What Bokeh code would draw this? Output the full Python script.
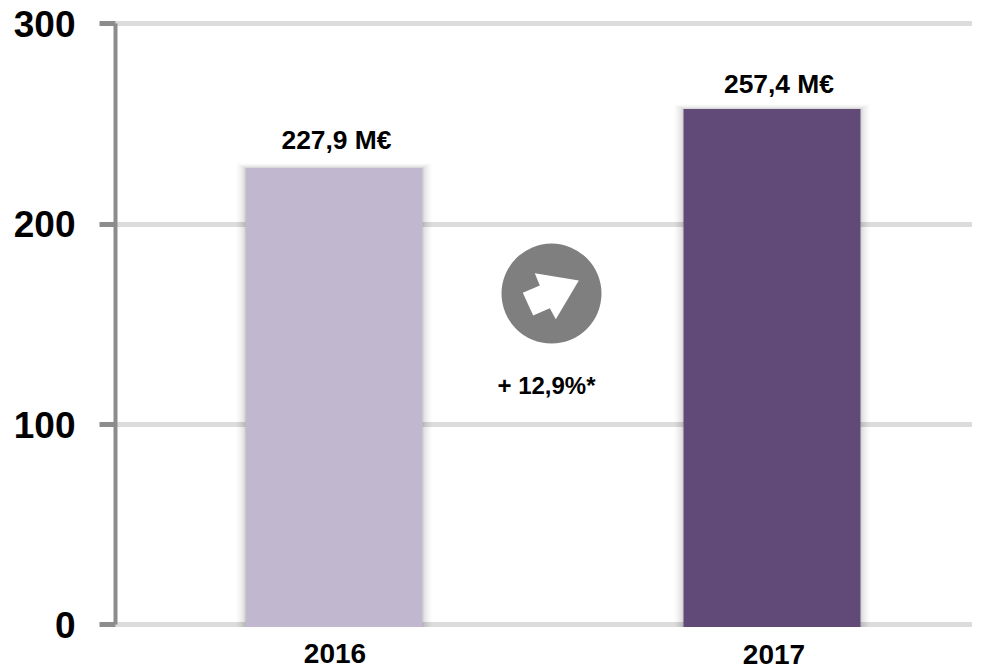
from bokeh.plotting import figure
from bokeh.models import Range1d, FixedTicker, PolyAnnotation, ColumnDataSource
from bokeh.core.properties import value
from bokeh.embed import file_html
from bokeh.resources import INLINE

years = ["2016", "2017"]
revenue = [227.9, 257.4]
labels = ["227,9 M€", "257,4 M€"]
colors = ["#c1b8d0", "#614a78"]
ticks = [0, 100, 200, 300]
growth_label = "+ 12,9%*"

FONT = "Liberation Sans"
xs = [0, 1]
bar_w = 177 / 438
px = 1 / 438          # data units per horizontal pixel
py = 1 / 2.005        # data units per vertical pixel
H = 669

p = figure(width=972, height=H, output_backend="svg", toolbar_location=None,
           x_range=Range1d(-0.4989, 1.4578), y_range=Range1d(-22.2, 311.5),
           x_axis_location=None, min_border_left=115, min_border_right=0,
           min_border_top=0, min_border_bottom=0)
p.outline_line_color = None
p.background_fill_color = "white"
p.xgrid.visible = False
p.ygrid.ticker = FixedTicker(ticks=ticks)
p.ygrid.grid_line_color = "#dcdcdc"
p.ygrid.grid_line_width = 5

ax = p.yaxis[0]
ax.ticker = FixedTicker(ticks=ticks)
ax.bounds = (0, 300)
ax.axis_line_color = "#8c8c8c"
ax.axis_line_width = 4
ax.major_tick_line_color = "#8c8c8c"
ax.major_tick_line_width = 5
ax.major_tick_out = 16
ax.major_tick_in = 0
ax.minor_tick_line_color = None
ax.major_label_standoff = 24
ax.major_label_text_font = FONT
ax.major_label_text_font_style = "bold"
ax.major_label_text_font_size = "37px"
ax.major_label_text_color = "black"

# soft shadow round each bar
for spread, alpha in [(9, 0.02), (7, 0.025), (5, 0.03), (3, 0.04), (1.5, 0.05)]:
    p.vbar(x=xs, top=[v + spread * py * 0.5 for v in revenue], bottom=-1,
           width=bar_w + 2 * spread * px, color="#000000", alpha=alpha, line_color=None)

p.vbar(x=xs, top=revenue, bottom=-1, width=bar_w, color=colors, line_color=None)

val_src = ColumnDataSource(dict(x=xs, y=revenue, t=labels, dx=[2.5, 7], dy=[-28, -25]))
p.text(x="x", y="y", text="t", source=val_src, text_font=value(FONT), text_font_style="bold",
       text_font_size="26.4px", text_color="black", text_align="center",
       text_baseline="middle", x_offset="dx", y_offset="dy")

src = ColumnDataSource(dict(x=xs, t=years, dx=[1, 2], off=[29, 30]))
p.text(x="x", y=0, text="t", source=src, text_font=value(FONT), text_font_style="bold",
       text_font_size="28px", text_color="black", text_align="center",
       text_baseline="middle", x_offset="dx", y_offset="off")

# growth badge
p.scatter(x=[0.4966], y=[165.3], size=100, marker="circle", color="#7f7f7f", line_color=None)
arrow_x = [578.3, 534.3, 539.3, 522.3, 532.7, 549.3, 555.3]
arrow_y = [280, 272.7, 285, 292.3, 315, 307.7, 318.7]
p.add_layout(PolyAnnotation(xs=[v - 115 for v in arrow_x], ys=[H - v for v in arrow_y],
                            xs_units="screen", ys_units="screen",
                            fill_color="white", fill_alpha=1, line_color=None))
p.text(x=[0.4966], y=[165.3], text=[growth_label], text_font=value(FONT), text_font_style="bold",
       text_font_size="24px", text_color="black", text_align="center",
       text_baseline="middle", x_offset=-5, y_offset=92)

open("out.html", "w").write(file_html(p, INLINE))
